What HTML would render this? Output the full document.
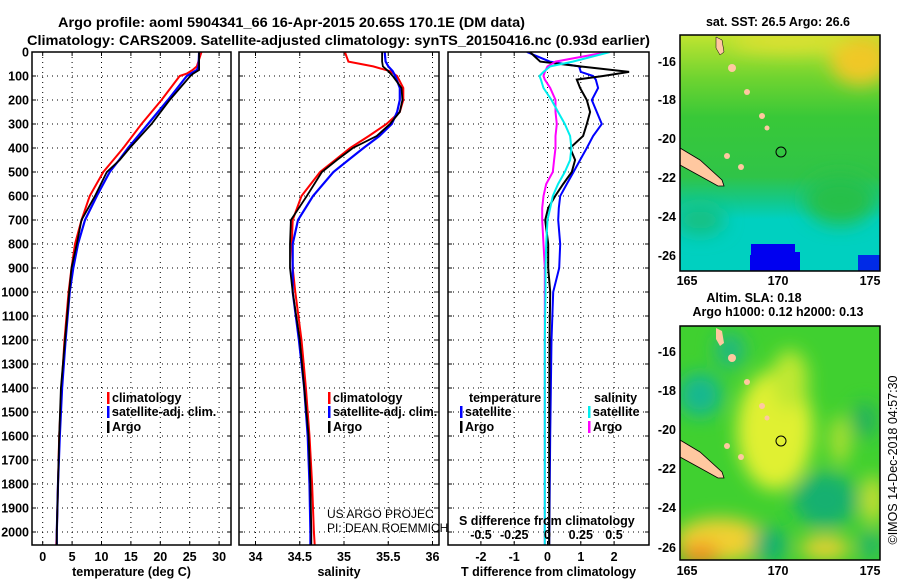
<!DOCTYPE html>
<html><head><meta charset="utf-8"><style>
body{margin:0;background:#fff}
svg{display:block;font-family:"Liberation Sans",sans-serif}
.b{font-weight:bold;font-size:12.5px}
</style></head><body>
<svg id="fig" width="900" height="580" viewBox="0 0 900 580">
<text class="b" x="58" y="27" textLength="467" lengthAdjust="spacingAndGlyphs" style="font-size:14px">Argo profile: aoml 5904341_66 16-Apr-2015 20.65S 170.1E (DM data)</text>
<text class="b" x="27" y="45" textLength="623" lengthAdjust="spacingAndGlyphs" style="font-size:14px">Climatology: CARS2009. Satellite-adjusted climatology: synTS_20150416.nc (0.93d earlier)</text>
<g id="panels"></g>
<defs>
<filter id="bl" x="-20%" y="-20%" width="140%" height="140%"><feGaussianBlur stdDeviation="9"/></filter>
<clipPath id="c1"><rect x="680" y="35" width="200" height="236"/></clipPath>
<clipPath id="c2"><rect x="680" y="326" width="200" height="234"/></clipPath>
<linearGradient id="g1" x1="0" y1="0" x2="0" y2="1">
<stop offset="0" stop-color="#c0e430"/><stop offset="0.18" stop-color="#70d430"/><stop offset="0.35" stop-color="#38c838"/><stop offset="0.6" stop-color="#30c448"/><stop offset="0.7" stop-color="#14c888"/><stop offset="0.78" stop-color="#00d0c0"/><stop offset="1" stop-color="#00d0c0"/></linearGradient>
</defs>
<g>
<text class="b" x="778" y="26" text-anchor="middle">sat. SST: 26.5 Argo: 26.6</text>
<g clip-path="url(#c1)">
<rect x="680" y="35" width="200" height="236" fill="url(#g1)"/>
<g filter="url(#bl)">
<ellipse cx="860" cy="60" rx="30" ry="25" fill="#f0c828"/>
<ellipse cx="790" cy="42" rx="60" ry="10" fill="#e0e030"/>
<ellipse cx="840" cy="200" rx="35" ry="25" fill="#28c048"/>
<ellipse cx="700" cy="220" rx="25" ry="15" fill="#18c080"/>
</g>
<polygon points="751,244 795,244 795,252 800,252 800,271 750,271 750,255 751,255" fill="#0000f0"/>
<rect x="858" y="255" width="22" height="16" fill="#0000f0" opacity="0.8"/>
<polygon points="680,148 700,160 722,180 724,186 718,186 700,176 680,165" fill="#ffc8a0" stroke="#000" stroke-width="0.8"/>
<polygon points="716,37 722,40 724,52 720,55 716,48" fill="#ffc8a0" stroke="#000" stroke-width="0.5"/>
<ellipse cx="732" cy="68" rx="4" ry="4" fill="#ffc8a0"/><ellipse cx="747" cy="92" rx="3" ry="3" fill="#ffc8a0"/>
<ellipse cx="762" cy="116" rx="3" ry="3" fill="#ffc8a0"/><ellipse cx="767" cy="128" rx="2.5" ry="2.5" fill="#ffc8a0"/>
<ellipse cx="727" cy="156" rx="3" ry="3" fill="#ffc8a0"/><ellipse cx="741" cy="167" rx="3" ry="3" fill="#ffc8a0"/>
<circle cx="781" cy="152" r="5" fill="none" stroke="#000" stroke-width="1"/>
</g>
<rect x="680" y="35" width="200" height="236" fill="none" stroke="#000" stroke-width="1.5"/>
<g class="b">
<text x="687" y="285" text-anchor="middle">165</text><text x="778" y="285" text-anchor="middle">170</text><text x="870" y="285" text-anchor="middle">175</text>
<text x="676" y="66" text-anchor="end">-16</text><text x="676" y="104" text-anchor="end">-18</text><text x="676" y="143" text-anchor="end">-20</text><text x="676" y="182" text-anchor="end">-22</text><text x="676" y="221" text-anchor="end">-24</text><text x="676" y="260" text-anchor="end">-26</text>
</g>
</g>
<g>
<text class="b" x="754" y="302" text-anchor="middle">Altim. SLA: 0.18</text>
<text class="b" x="778" y="316" text-anchor="middle">Argo h1000: 0.12 h2000: 0.13</text>
<g clip-path="url(#c2)">
<rect x="680" y="326" width="200" height="234" fill="#40d030"/>
<g filter="url(#bl)">
<ellipse cx="775" cy="430" rx="38" ry="60" fill="#e0f030"/>
<ellipse cx="790" cy="380" rx="18" ry="30" fill="#c0e830"/>
<ellipse cx="700" cy="395" rx="22" ry="22" fill="#18b890"/>
<ellipse cx="730" cy="350" rx="15" ry="18" fill="#20b880"/>
<ellipse cx="825" cy="500" rx="32" ry="28" fill="#18b070"/>
<ellipse cx="720" cy="540" rx="45" ry="22" fill="#f0d030"/>
<ellipse cx="700" cy="555" rx="20" ry="12" fill="#f09020"/>
<ellipse cx="770" cy="545" rx="18" ry="18" fill="#18b070"/>
<ellipse cx="825" cy="548" rx="25" ry="12" fill="#e8d030"/>
<ellipse cx="873" cy="500" rx="10" ry="25" fill="#d8e030"/>
<ellipse cx="870" cy="545" rx="10" ry="15" fill="#20b070"/>
<ellipse cx="865" cy="420" rx="12" ry="18" fill="#20b060"/>
<ellipse cx="840" cy="440" rx="10" ry="25" fill="#b0e030"/>
</g>
<polygon points="680,440 700,452 722,472 724,478 718,478 700,468 680,457" fill="#ffc8a0" stroke="#000" stroke-width="0.8"/>
<polygon points="716,328 722,331 724,343 720,346 716,339" fill="#ffc8a0"/>
<ellipse cx="732" cy="358" rx="4" ry="4" fill="#ffc8a0"/><ellipse cx="747" cy="382" rx="3" ry="3" fill="#ffc8a0"/>
<ellipse cx="762" cy="406" rx="3" ry="3" fill="#ffc8a0"/><ellipse cx="767" cy="418" rx="2.5" ry="2.5" fill="#ffc8a0"/>
<ellipse cx="727" cy="446" rx="3" ry="3" fill="#ffc8a0"/><ellipse cx="741" cy="457" rx="3" ry="3" fill="#ffc8a0"/>
<circle cx="781" cy="441" r="5" fill="none" stroke="#000" stroke-width="1"/>
</g>
<rect x="680" y="326" width="200" height="234" fill="none" stroke="#000" stroke-width="1.5"/>
<g class="b">
<text x="687" y="575" text-anchor="middle">165</text><text x="778" y="575" text-anchor="middle">170</text><text x="870" y="575" text-anchor="middle">175</text>
<text x="676" y="356" text-anchor="end">-16</text><text x="676" y="395" text-anchor="end">-18</text><text x="676" y="434" text-anchor="end">-20</text><text x="676" y="473" text-anchor="end">-22</text><text x="676" y="512" text-anchor="end">-24</text><text x="676" y="552" text-anchor="end">-26</text>
</g>
</g>
<text x="897" y="460" transform="rotate(-90 897 460)" text-anchor="middle" style="font-size:12.5px">©IMOS 14-Dec-2018 04:57:30</text>
</svg>
<script>
const depthTicks=[0,100,200,300,400,500,600,700,800,900,1000,1100,1200,1300,1400,1500,1600,1700,1800,1900,2000];
const tDepth=[0,60,75,90,100,200,300,400,450,500,600,700,800,900,1000,1200,1400,1600,1800,2000,2060];
const tArgo=[26.6,26.6,26.6,25.6,25.1,21.6,18.5,14.8,13.1,10.9,8.9,6.6,5.8,4.9,4.5,3.8,3.1,2.8,2.6,2.4,2.4];
const tClim=[27.0,26.2,25.5,24.5,23.3,20.2,16.8,13.7,12.0,10.3,8.0,6.6,5.5,4.9,4.4,3.7,3.2,2.8,2.6,2.4,2.3];
const tSat=[26.6,26.5,26.2,25.2,24.5,21.3,17.9,14.5,13.0,11.4,9.2,7.2,6.0,5.2,4.6,3.9,3.3,2.9,2.6,2.4,2.4];
const sDepth=[0,40,60,80,100,150,200,250,300,350,400,450,500,600,700,800,900,1000,1200,1400,1600,1800,2000,2060];
const sArgo=[35.43,35.43,35.44,35.50,35.55,35.65,35.66,35.63,35.52,35.37,35.10,34.92,34.75,34.58,34.40,34.39,34.39,34.42,34.50,34.55,34.60,34.62,34.63,34.63];
const sClim=[35.01,35.05,35.33,35.52,35.60,35.67,35.67,35.63,35.48,35.28,35.07,34.90,34.73,34.52,34.42,34.41,34.42,34.45,34.52,34.57,34.61,34.64,34.66,34.67];
const sSat=[35.46,35.47,35.50,35.55,35.58,35.63,35.63,35.60,35.54,35.40,35.22,35.05,34.88,34.65,34.48,34.42,34.42,34.42,34.49,34.55,34.59,34.61,34.62,34.62];
const dDepth=[0,40,60,83,100,115,150,200,250,300,350,400,450,500,550,600,650,700,800,900,1000,1200,1600,2060];
const dTArgo=[-0.53,-0.22,0.98,2.45,1.67,0.88,0.98,1.18,1.28,1.18,1.07,0.68,0.83,0.73,0.47,0.23,0.02,-0.07,0.02,0.02,0.08,0.06,0.05,0.05];
const dTSat=[-0.62,0.07,0.95,1.0,1.37,1.45,1.52,1.33,1.48,1.63,1.37,1.18,0.98,0.78,0.58,0.38,0.34,0.32,0.38,0.35,0.17,0.12,0.08,0.05];
const dSSat=[0.47,0.19,0.02,-0.03,-0.06,-0.05,-0.03,0.03,0.08,0.13,0.17,0.18,0.17,0.13,0.08,0.04,0.02,0.0,-0.01,-0.015,-0.015,-0.02,-0.02,-0.02];
const dSArgo=[0.45,0.06,0.0,-0.02,-0.03,-0.02,0.02,0.06,0.06,0.07,0.06,0.06,0.05,0.04,-0.01,-0.03,-0.04,-0.04,-0.03,-0.02,-0.02,-0.02,-0.02,-0.02];
const tTicks=[0,5,10,15,20,25,30];
const sTicks=[34,34.5,35,35.5,36];
const sTickLabels=["34","34.5","35","35.5","36"];
const dtTicks=[-2,-1,0,1,2];
const dsTicks=[-0.5,-0.25,0,0.25,0.5];
const dsTickLabels=["-0.5","-0.25","0","0.25","0.5"];

const NS="http://www.w3.org/2000/svg";
const root=document.getElementById('panels');
const TOP=52,BOT=545;
const yD=d=>TOP+d*0.24;
function mk(tag,attrs,parent){const e=document.createElementNS(NS,tag);for(const k in attrs)e.setAttribute(k,attrs[k]);(parent||root).appendChild(e);return e;}
function txt(x,y,s,anchor,parent,cls){const t=mk('text',{x:x,y:y,'text-anchor':anchor||'middle',class:cls===undefined?'b':cls},parent);t.textContent=s;return t;}

const panels=[
 {name:'temperature-panel',x0:32,x1:231,xs:v=>42.7+v*5.88,ticks:tTicks,labels:tTicks.map(String),title:'temperature (deg C)'},
 {name:'salinity-panel',x0:239,x1:439,xs:v=>255.5+(v-34)*88.5,ticks:sTicks,labels:sTickLabels,title:'salinity'},
 {name:'difference-panel',x0:448,x1:649,xs:v=>547.5+v*33.3,ticks:dtTicks,labels:dtTicks.map(String),title:'T difference from climatology'}
];
const clipDefs=mk('defs',{});
panels.forEach((p,i)=>{
 const g=mk('g',{});
 
 
 const cp=mk('clipPath',{id:'pc'+i},clipDefs);mk('rect',{x:p.x0,y:TOP,width:p.x1-p.x0,height:BOT-TOP},cp);
 depthTicks.forEach(d=>{mk('line',{x1:p.x0,x2:p.x1,y1:yD(d),y2:yD(d),stroke:'#000','stroke-width':1,'stroke-dasharray':'1 4'},g);
  mk('line',{x1:p.x0,x2:p.x0+4,y1:yD(d),y2:yD(d),stroke:'#000'},g);mk('line',{x1:p.x1-4,x2:p.x1,y1:yD(d),y2:yD(d),stroke:'#000'},g);});
 p.ticks.forEach((t,k)=>{const x=p.xs(t);
  mk('line',{x1:x,x2:x,y1:TOP,y2:BOT,stroke:'#000','stroke-width':1,'stroke-dasharray':'1 4'},g);
  mk('line',{x1:x,x2:x,y1:BOT-4,y2:BOT,stroke:'#000'},g);mk('line',{x1:x,x2:x,y1:TOP,y2:TOP+4,stroke:'#000'},g);
  const tl=txt(x,561,p.labels[k],'middle',g);
  
  });
 const at=txt((p.x0+p.x1)/2,576,p.title,'middle',g);
 
 
 p.g=g;
});
const yg=mk('g',{});


depthTicks.forEach(d=>{const t=txt(29,yD(d)+4.5,String(d),'end',yg);});

function series(p,idx,depths,vals,color,w,name){
 let dstr='';depths.forEach((d,k)=>{dstr+=(k?'L':'M')+p.xs(vals[k]).toFixed(1)+','+yD(d).toFixed(1);});
 const path=mk('path',{d:dstr,fill:'none',stroke:color,'stroke-width':w,'clip-path':'url(#pc'+idx+')'},p.g);
 
 
}
const P=panels;
series(P[0],0,tDepth,tClim,'#f00',2,'temperature-climatology-line');
series(P[0],0,tDepth,tSat,'#00f',2.2,'temperature-satellite-line');
series(P[0],0,tDepth,tArgo,'#000',1.8,'temperature-argo-line');
series(P[1],1,sDepth,sClim,'#f00',2,'salinity-climatology-line');
series(P[1],1,sDepth,sSat,'#00f',2.2,'salinity-satellite-line');
series(P[1],1,sDepth,sArgo,'#000',1.8,'salinity-argo-line');
const sxs=v=>547.5+v*133;
const Ps={xs:sxs,g:P[2].g};
series(P[2],2,dDepth,dTSat,'#00f',2,'t-diff-satellite-line');
series(P[2],2,dDepth,dTArgo,'#000',2,'t-diff-argo-line');
series(Ps,2,dDepth,dSArgo,'#f0f',2,'s-diff-argo-line');
series(Ps,2,dDepth,dSSat,'#0ee',2,'s-diff-satellite-line');
panels.forEach(p=>{mk('rect',{x:p.x0,y:TOP,width:p.x1-p.x0,height:BOT-TOP,fill:'none',stroke:'#000','stroke-width':1.5},p.g);});

function leg(g,x,y,color,label,name){
 const e=mk('g',{},g);
 
 
 mk('rect',{x:x-1,y:y-10,width:2.5,height:12,fill:color},e);
 txt(x+4,y,label,'start',e);
}
leg(P[0].g,108,402,'#f00','climatology','legend-climatology');
leg(P[0].g,108,416,'#00f','satellite-adj. clim.','legend-satellite-adj');
leg(P[0].g,108,431,'#000','Argo','legend-argo');
leg(P[1].g,329,402,'#f00','climatology','legend-sal-climatology');
leg(P[1].g,329,416,'#00f','satellite-adj. clim.','legend-sal-satellite-adj');
leg(P[1].g,329,431,'#000','Argo','legend-sal-argo');
txt(469,402,'temperature','start',P[2].g);
txt(594,402,'salinity','start',P[2].g);
leg(P[2].g,461,416,'#00f','satellite','legend-t-satellite');
leg(P[2].g,461,431,'#000','Argo','legend-t-argo');
leg(P[2].g,589,416,'#0ee','satellite','legend-s-satellite');
leg(P[2].g,589,431,'#f0f','Argo','legend-s-argo');
const st=txt(459,525,'S difference from climatology','start',P[2].g);


dsTicks.forEach((v,k)=>{const t=txt(sxs(v),539,dsTickLabels[k],'middle',P[2].g);});
const c1=txt(327,518,'US ARGO PROJEC','start',P[1].g,'');c1.setAttribute('style','font-size:12px');
const c2=txt(327,532,'PI: DEAN ROEMMICH','start',P[1].g,'');c2.setAttribute('style','font-size:12px');
</script>
</body></html>
